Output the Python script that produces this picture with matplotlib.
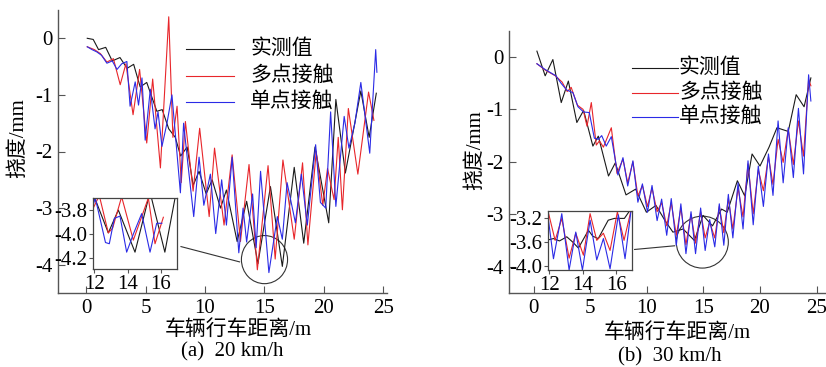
import matplotlib
matplotlib.use("Agg")
import matplotlib.pyplot as plt
from matplotlib.lines import Line2D
from matplotlib.patches import Ellipse
from matplotlib.ticker import FormatStrFormatter

plt.rcParams['font.family'] = ['Liberation Serif', 'Noto Sans CJK SC']
plt.rcParams['axes.unicode_minus'] = False

# ---------------- data: panel (a) 20 km/h ----------------
a_meas_x = [0.1, 0.6, 1.05, 1.65, 2.2, 2.85, 3.45, 4.0, 4.55, 5.1, 5.95, 6.4, 6.95, 7.5, 7.95, 8.5,
            9.0, 9.5, 10.1, 10.6, 11.3, 11.8, 12.7, 13.5, 14.45, 15.5, 16.5, 17.5, 18.3, 19.25,
            20.4, 21.0, 21.8, 23.1, 23.8, 24.4]
a_meas_y = [0.0, -0.02, -0.2, -0.16, -0.4, -0.34, -0.53, -0.46, -0.86, -0.78, -1.29, -1.26, -1.6,
            -1.75, -2.08, -1.92, -2.6, -2.35, -2.75, -2.5, -3.0, -2.68, -3.59, -2.88, -3.98, -2.62,
            -4.03, -2.28, -3.62, -1.92, -3.26, -1.08, -2.38, -0.93, -1.75, -0.97]

a_multi_x = [0.1, 0.7, 1.2, 1.75, 2.3, 2.87, 3.35, 3.95, 4.5, 5.1, 5.6, 6.25, 6.95, 7.3, 7.65, 8.0,
             8.35, 9.0, 9.55, 10.35, 10.8, 11.6, 12.28, 12.98, 13.7, 14.4, 15.3, 15.9, 16.55, 17.5,
             18.2, 18.65, 19.35, 19.9, 20.3, 20.85, 21.2, 21.55, 22.05, 22.85, 23.75, 24.2]
a_multi_y = [-0.15, -0.2, -0.27, -0.42, -0.36, -0.82, -0.45, -1.35, -0.55, -1.85, -0.72, -2.29, 0.38,
             -1.75, -1.2, -2.55, -1.47, -2.7, -1.59, -3.15, -1.94, -3.3, -2.06, -3.59, -2.23, -4.09,
             -2.25, -3.9, -2.15, -3.55, -2.2, -3.65, -2.0, -2.95, -2.3, -2.85, -1.75, -3.03, -1.24,
             -2.4, -0.95, -1.45]

a_single_x = [0.1, 0.5, 0.9, 1.3, 1.75, 2.2, 2.6, 3.0, 3.43, 3.7, 4.13, 4.41, 4.7, 4.97, 5.4, 5.8,
              6.05, 6.38, 6.8, 7.22, 7.93, 8.2, 8.55, 9.05, 9.5, 9.9, 10.45, 10.9, 11.4, 11.8, 12.28,
              12.84, 13.2, 13.5, 14.0, 14.3, 14.67, 15.37, 16.08, 16.5, 16.9, 17.6, 18.1, 18.6, 19.3,
              19.7, 20.15, 20.56, 21.0, 21.7, 22.1, 22.6, 23.1, 23.85, 24.35, 24.45]
a_single_y = [-0.15, -0.2, -0.24, -0.3, -0.44, -0.4, -0.55, -0.45, -0.41, -1.2, -0.77, -1.18, -0.7,
              -1.8, -0.9, -1.6, -1.3, -1.91, -1.5, -1.0, -2.73, -1.5, -2.2, -3.15, -2.1, -2.95, -2.4,
              -3.45, -2.5, -3.3, -2.1, -3.79, -3.0, -3.6, -2.75, -3.7, -2.35, -4.14, -3.15, -3.55,
              -2.55, -3.26, -2.4, -3.3, -1.88, -2.9, -3.0, -1.3, -2.97, -1.38, -1.94, -1.5, -0.78,
              -2.03, -0.2, -0.6]

# inset (a)
ai_meas_x = [11.9, 12.14, 12.84, 13.44, 14.44, 15.34, 16.23, 16.95]
ai_meas_y = [-3.68, -3.74, -3.99, -3.8, -4.15, -3.65, -4.15, -3.62]
ai_multi_x = [11.95, 12.3, 12.84, 13.1, 13.64, 14.34, 15.24, 15.64, 16.14]
ai_multi_y = [-3.78, -3.68, -3.99, -3.95, -3.69, -4.05, -3.7, -4.08, -3.86]
ai_single_x = [11.95, 12.06, 12.67, 12.9, 13.2, 13.54, 13.94, 14.34, 14.84, 15.34, 15.74, 16.05]
ai_single_y = [-3.75, -3.7, -4.07, -4.08, -3.87, -3.85, -4.15, -4.0, -3.83, -4.15, -3.91, -3.91]

# ---------------- data: panel (b) 30 km/h ----------------
b_meas_x = [0.27, 1.0, 1.68, 2.42, 3.05, 3.8, 4.4, 5.22, 5.7, 6.6, 7.2, 8.15, 9.0, 9.95, 10.8,
            11.6, 12.3, 13.2, 14.2, 14.96, 15.8, 16.6, 17.1, 18.0, 18.65, 19.3, 20.0, 20.8, 21.5,
            22.5, 23.2, 23.9, 24.5]
b_meas_y = [0.11, -0.36, -0.05, -0.87, -0.46, -1.25, -1.02, -1.7, -1.51, -2.27, -2.02, -2.63, -2.52,
            -2.96, -2.83, -3.12, -3.34, -3.28, -3.5, -3.02, -3.22, -2.9, -2.96, -2.36, -2.65, -1.85,
            -2.08, -1.72, -1.35, -1.42, -0.72, -0.95, -0.4]

b_multi_x = [0.27, 1.0, 1.9, 2.5, 2.95, 3.3, 3.85, 4.35, 4.7, 5.08, 5.52, 5.8, 6.15, 6.85, 7.35,
             7.88, 8.3, 8.76, 9.2, 9.6, 10.05, 10.45, 10.9, 11.3, 11.75, 12.15, 12.6, 13.0, 13.45,
             13.9, 14.3, 14.75, 15.15, 15.55, 16.0, 16.4, 16.8, 17.2, 17.6, 18.06, 18.5, 18.94,
             19.4, 19.85, 20.3, 20.75, 21.15, 21.6, 22.05, 22.5, 22.95, 23.4, 23.85, 24.3, 24.5]
b_multi_y = [-0.13, -0.25, -0.36, -0.48, -0.66, -0.58, -0.92, -1.0, -1.32, -0.87, -1.68, -1.6, -1.72,
             -1.35, -2.22, -1.95, -2.4, -2.0, -2.65, -2.45, -2.85, -2.5, -2.95, -2.78, -3.22, -2.78,
             -3.4, -2.88, -3.58, -3.0, -3.55, -2.95, -3.45, -3.15, -3.45, -2.85, -3.35, -2.7, -3.28,
             -2.5, -3.05, -2.04, -2.99, -2.15, -2.55, -1.9, -2.43, -1.57, -2.01, -1.38, -2.05, -1.22,
             -1.89, -0.43, -0.55]

b_single_x = [0.27, 1.0, 1.95, 2.4, 2.9, 3.45, 3.9, 4.4, 4.9, 5.35, 5.7, 6.0, 6.4, 6.85, 7.43,
              7.88, 8.3, 8.76, 9.2, 9.6, 10.05, 10.45, 10.9, 11.3, 11.75, 12.15, 12.6, 13.0, 13.45,
              13.9, 14.3, 14.75, 15.15, 15.55, 16.0, 16.4, 16.8, 17.2, 17.6, 18.06, 18.5, 18.94,
              19.4, 19.85, 20.3, 20.75, 21.15, 21.6, 22.05, 22.5, 22.95, 23.4, 23.85, 24.3, 24.5]
b_single_y = [-0.13, -0.24, -0.36, -0.5, -0.63, -0.68, -0.95, -1.05, -1.06, -1.55, -1.57, -1.5, -1.7,
              -1.52, -2.25, -1.92, -2.46, -1.98, -2.77, -2.42, -2.96, -2.45, -3.12, -2.71, -3.4, -2.7,
              -3.59, -2.8, -3.75, -2.95, -3.75, -2.88, -3.69, -3.1, -3.62, -2.8, -3.59, -2.62, -3.45,
              -2.4, -3.28, -1.98, -3.2, -2.08, -2.85, -1.85, -2.64, -1.22, -2.4, -1.35, -2.3, -0.98,
              -2.23, -0.34, -0.84]

# inset (b)
bi_meas_x = [11.95, 12.24, 12.6, 13.04, 13.4, 13.74, 14.34, 14.6, 14.93, 15.53, 15.9, 16.5, 16.92]
bi_meas_y = [-3.56, -3.54, -3.58, -3.51, -3.6, -3.7, -3.4, -3.5, -3.54, -3.23, -3.2, -3.2, -3.03]
bi_multi_x = [11.95, 12.34, 12.74, 13.18, 13.58, 14.04, 14.44, 14.84, 15.24, 15.64, 16.08, 16.48, 16.92]
bi_multi_y = [-3.12, -3.57, -3.2, -3.87, -3.45, -3.82, -3.12, -3.57, -3.45, -3.74, -3.09, -3.57, -3.04]
bi_single_x = [11.95, 12.24, 12.74, 13.18, 13.58, 13.98, 14.44, 14.84, 15.24, 15.64, 16.14, 16.54, 16.92]
bi_single_y = [-3.25, -3.88, -3.12, -4.07, -3.43, -4.07, -3.23, -3.9, -3.54, -4.05, -3.14, -3.88, -3.02]

legend_labels = ['实测值', '多点接触', '单点接触']
colors = ['#1a1a1a', '#e8262b', '#2b2be6']
main_xticks = [0, 5, 10, 15, 20, 25]
main_yticks = [0, -1, -2, -3, -4]

W, H = 826, 367
fig = plt.figure(figsize=(W / 100, H / 100), dpi=100)


def fr(px_l, px_t, px_r, px_b):
    return [px_l / W, 1 - px_b / H, (px_r - px_l) / W, (px_b - px_t) / H]


def style_main(ax, xlim):
    ax.set_xlim(*xlim)
    ax.set_ylim(-4.5, 0.5)
    for s in ['top', 'right']:
        ax.spines[s].set_visible(False)
    for s in ['left', 'bottom']:
        ax.spines[s].set_color('#555555')
        ax.spines[s].set_linewidth(1.0)
    ax.set_xticks(main_xticks)
    ax.set_yticks(main_yticks)
    ax.tick_params(direction='in', length=5, width=0.8, color='#555555', labelsize=15, pad=4)


def style_inset(ax, xlim, ylim, yticks):
    ax.set_xlim(*xlim)
    ax.set_ylim(*ylim)
    ax.set_xticks([12, 14, 16])
    ax.set_yticks(yticks)
    ax.yaxis.set_major_formatter(FormatStrFormatter('%.1f'))
    for s in ax.spines.values():
        s.set_color('#444444')
        s.set_linewidth(0.9)
    ax.tick_params(direction='out', length=3, width=0.8, color='#555555', labelsize=15, pad=1)
    ax.set_facecolor('white')


lw = 0.8
# ---------- panel (a) ----------
axa = fig.add_axes(fr(58, 10, 387, 293))
style_main(axa, (-2.36, 25.3))
axa.plot(a_meas_x, a_meas_y, color=colors[0], lw=lw)
axa.plot(a_multi_x, a_multi_y, color=colors[1], lw=lw)
axa.plot(a_single_x, a_single_y, color=colors[2], lw=lw)
axa.add_patch(Ellipse((15.0, -3.91), 3.88, 0.85, fill=False, ec='#333333', lw=0.8))
axa.plot([7.98, 12.9], [-3.68, -3.95], color='#333333', lw=0.8)

axai = fig.add_axes(fr(93.3, 198, 176.7, 269))
style_inset(axai, (11.94, 16.94), (-4.29, -3.7), [-3.8, -4.0, -4.2])
axai.plot(ai_meas_x, ai_meas_y, color=colors[0], lw=lw)
axai.plot(ai_multi_x, ai_multi_y, color=colors[1], lw=lw)
axai.plot(ai_single_x, ai_single_y, color=colors[2], lw=lw)

fig.text(238 / W, 1 - 330 / H, '车辆行车距离/m', ha='center', va='center', fontsize=15)
fig.text(232 / W, 1 - 352 / H, '(a)  20 km/h', ha='center', va='center', fontsize=15)
fig.text(18 / W, 1 - 138 / H, '挠度/mm', ha='center', va='center', rotation=90, fontsize=15)

for i, lab in enumerate(legend_labels):
    yy = 1 - [49, 76, 102][i] / H
    fig.add_artist(Line2D([186 / W, 234 / W], [yy, yy], color=colors[i], lw=lw))
    fig.text(250 / W, yy, lab, ha='left', va='center', fontsize=15)

# ---------- panel (b) ----------
axb = fig.add_axes(fr(509, 30.7, 825, 293))
style_main(axb, (-2.2, 25.75))
axb.plot(b_meas_x, b_meas_y, color=colors[0], lw=lw)
axb.plot(b_multi_x, b_multi_y, color=colors[1], lw=lw)
axb.plot(b_single_x, b_single_y, color=colors[2], lw=lw)
axb.add_patch(Ellipse((14.9, -3.53), 4.6, 0.99, fill=False, ec='#333333', lw=0.8))
axb.plot([8.91, 12.45], [-3.67, -3.6], color='#333333', lw=0.8)

axbi = fig.add_axes(fr(548.3, 210.7, 631.7, 270))
style_inset(axbi, (11.93, 16.94), (-4.07, -3.07), [-3.2, -3.6, -4.0])
axbi.plot(bi_meas_x, bi_meas_y, color=colors[0], lw=lw)
axbi.plot(bi_multi_x, bi_multi_y, color=colors[1], lw=lw)
axbi.plot(bi_single_x, bi_single_y, color=colors[2], lw=lw)

fig.text(677 / W, 1 - 333 / H, '车辆行车距离/m', ha='center', va='center', fontsize=15)
fig.text(670 / W, 1 - 357 / H, '(b)  30 km/h', ha='center', va='center', fontsize=15)
fig.text(475 / W, 1 - 150 / H, '挠度/mm', ha='center', va='center', rotation=90, fontsize=15)

for i, lab in enumerate(legend_labels):
    yy = 1 - [68, 93, 117][i] / H
    fig.add_artist(Line2D([632 / W, 678 / W], [yy, yy], color=colors[i], lw=lw))
    fig.text(679 / W, yy, lab, ha='left', va='center', fontsize=15)

fig.savefig('out.png', dpi=100)
